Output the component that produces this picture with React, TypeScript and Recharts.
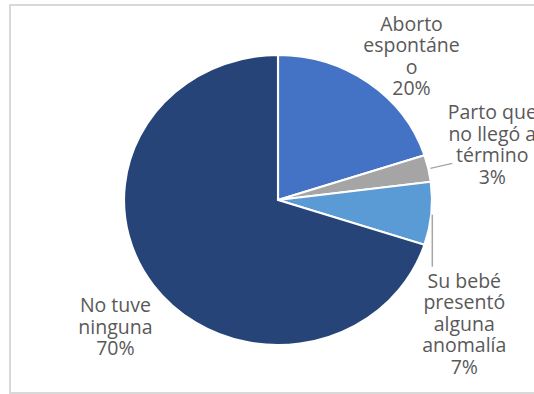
import { PieChart, Pie, Cell, Sector } from "recharts";

const categories = [
  "Aborto espontáneo",
  "Parto que no llegó a término",
  "Su bebé presentó alguna anomalía",
  "No tuve ninguna",
];
const labelLines = [
  ["Aborto", "espontáne", "o"],
  ["Parto que", "no llegó a", "término"],
  ["Su bebé", "presentó", "alguna", "anomalía"],
  ["No tuve", "ninguna"],
];
const values = [20, 3, 7, 70];
const colors = ["#4472C4", "#A5A5A5", "#5B9BD5", "#264478"];

const data = categories.map((name, i) => ({ name, value: values[i] }));

// the source pie is a bit wider than tall
const SX = 1.062;
const RAD = Math.PI / 180;
const LINE_H = 21.5;

// label placement relative to the slice's outer point (dx = text centre, dy = first baseline)
const labelOffsets = [
  { dx: 43, dy: -52 },
  { dx: 64, dy: -49 },
  { dx: 33, dy: 74 },
  { dx: -38, dy: 27 },
];
// leader lines, relative to the outer point
const leaders: (number[] | null)[] = [
  null,
  [2, 0, 24, -5],
  [1, 1, 1, 53],
  null,
];

function StretchedSector(props: any) {
  const { cx, cy } = props;
  return (
    <g transform={`translate(${cx},${cy}) scale(${SX},1) translate(${-cx},${-cy})`}>
      <Sector {...props} />
    </g>
  );
}

function renderLabel(props: any) {
  const { cx, cy, midAngle, outerRadius, index } = props;
  const ex = cx + outerRadius * SX * Math.cos(-midAngle * RAD);
  const ey = cy + outerRadius * Math.sin(-midAngle * RAD);
  const off = labelOffsets[index];
  const lines = [...labelLines[index], `${values[index]}%`];
  const ld = leaders[index];
  return (
    <g>
      {ld && (
        <line
          x1={ex + ld[0]}
          y1={ey + ld[1]}
          x2={ex + ld[2]}
          y2={ey + ld[3]}
          stroke="#A6A6A6"
          strokeWidth={1.5}
        />
      )}
      <text
        x={ex + off.dx}
        y={ey + off.dy}
        textAnchor="middle"
        fill="#595959"
        fontSize={19.5}
        fontFamily="'Open Sans', sans-serif"
      >
        {lines.map((l, i) => (
          <tspan key={i} x={ex + off.dx} y={ey + off.dy + i * LINE_H}>
            {l}
          </tspan>
        ))}
      </text>
    </g>
  );
}

export default function App() {
  return (
    <div
      style={{
        position: "absolute",
        left: 0,
        top: 0,
        width: 534,
        height: 394,
        overflow: "hidden",
        background: "#fff",
      }}
    >
      <div
        style={{
          position: "absolute",
          left: 9,
          top: 4,
          width: 620,
          height: 386,
          border: "2px solid #D9D9D9",
        }}
      />
      <PieChart
        width={534}
        height={394}
        margin={{ top: 0, right: 0, bottom: 0, left: 0 }}
        style={{ position: "absolute", left: 0, top: 0 }}
      >
        <Pie
          data={data}
          dataKey="value"
          nameKey="name"
          cx={278}
          cy={200}
          outerRadius={145}
          startAngle={90}
          endAngle={-270}
          stroke="#fff"
          strokeWidth={2}
          shape={StretchedSector}
          label={renderLabel}
          labelLine={false}
          isAnimationActive={false}
        >
          {data.map((d, i) => (
            <Cell key={d.name} fill={colors[i]} />
          ))}
        </Pie>
      </PieChart>
    </div>
  );
}
